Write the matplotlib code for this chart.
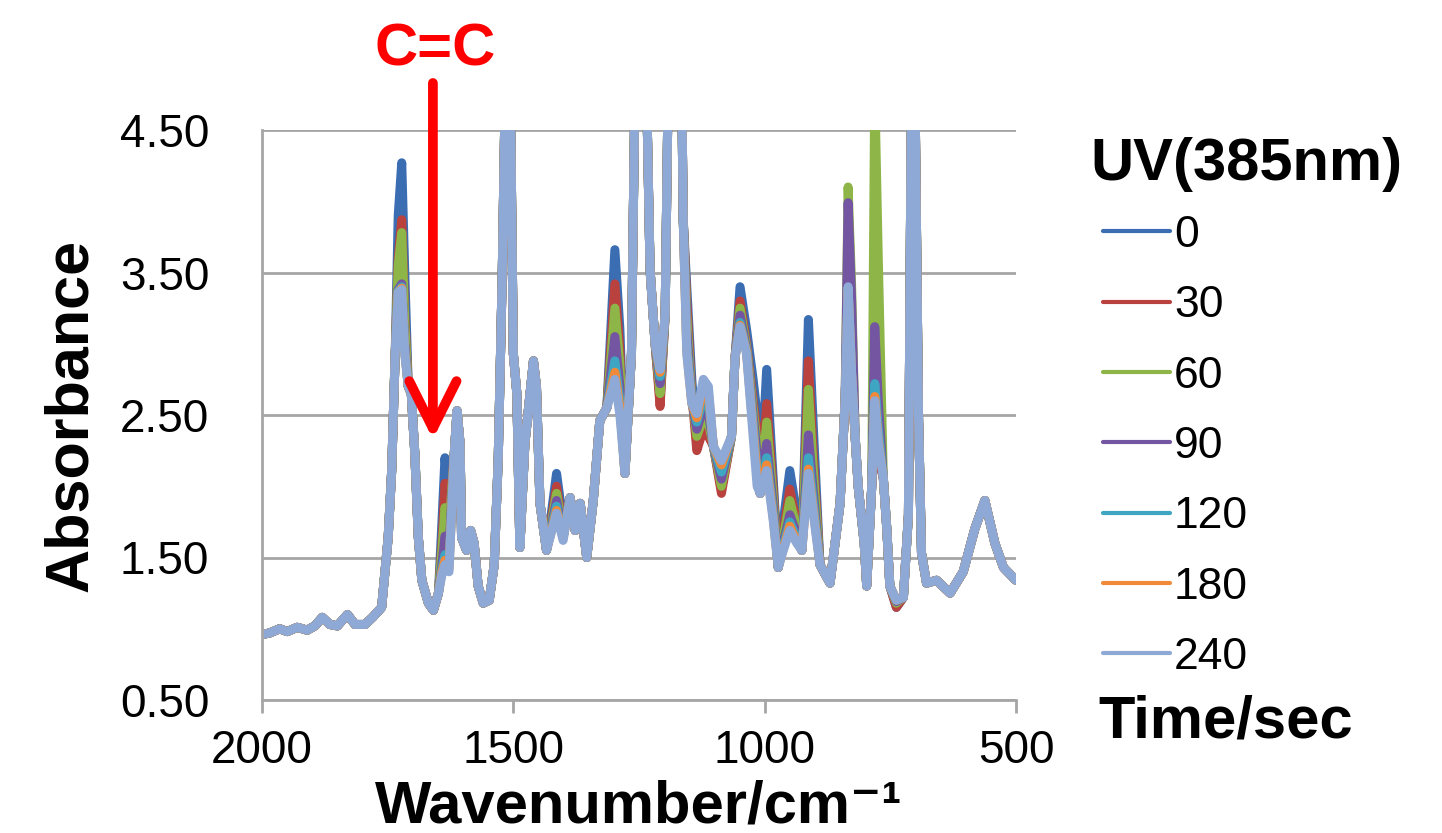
import matplotlib
matplotlib.use("Agg")
import matplotlib.pyplot as plt
import numpy as np

plt.rcParams['font.family'] = ['Liberation Sans', 'DejaVu Sans']

# ---------------------------------------------------------------------------
# Datos leídos del espectro (serie 240 s como base, cm-1 descendente)
# ---------------------------------------------------------------------------
wn = [2000, 1985, 1965, 1950, 1930, 1910, 1895, 1880, 1865, 1850, 1830, 1815,
      1795, 1780, 1762, 1749, 1742, 1735, 1729, 1722, 1716, 1709, 1703, 1696,
      1689, 1682, 1669, 1659, 1649, 1642, 1636, 1628, 1618, 1612, 1606, 1603,
      1593, 1585, 1578, 1570, 1560, 1548, 1538, 1530, 1522, 1516, 1506, 1500,
      1493, 1487, 1477, 1460, 1454, 1447, 1434, 1414, 1401, 1387, 1377, 1367,
      1354, 1341, 1328, 1314, 1298, 1288, 1278, 1265, 1258, 1235, 1228, 1218,
      1208, 1198, 1192, 1165, 1162, 1155, 1145, 1135, 1122, 1112, 1102, 1086,
      1066, 1059, 1049, 1036, 1023, 1015, 1009, 996, 983, 973, 963, 950, 936,
      926, 913, 903, 890, 870, 850, 840, 834, 827, 820, 814, 802, 797, 787,
      781, 774, 764, 757, 751, 738, 724, 714, 708, 701, 694, 688, 678, 658,
      631, 605, 582, 562, 542, 525, 500]

a240 = [0.96, 0.97, 1.00, 0.98, 1.01, 0.99, 1.02, 1.08, 1.03, 1.02, 1.10, 1.03,
        1.03, 1.08, 1.15, 1.64, 2.11, 2.93, 3.36, 3.38, 2.93, 2.70, 2.65, 2.23,
        1.64, 1.34, 1.18, 1.13, 1.25, 1.38, 1.45, 1.40, 2.20, 2.53, 2.30, 1.64,
        1.55, 1.69, 1.60, 1.30, 1.18, 1.20, 1.45, 2.20, 3.50, 4.80, 4.80, 2.93,
        2.65, 1.57, 2.30, 2.88, 2.70, 1.88, 1.55, 1.81, 1.62, 1.92, 1.69, 1.88,
        1.50, 1.90, 2.46, 2.55, 2.75, 2.50, 2.09, 2.93, 4.80, 4.80, 3.52, 3.00,
        2.82, 3.20, 4.80, 4.80, 3.87, 2.93, 2.58, 2.51, 2.75, 2.70, 2.28, 2.18,
        2.35, 2.90, 3.12, 2.93, 2.35, 2.00, 1.95, 2.11, 1.76, 1.43, 1.55, 1.69, 1.60,
        1.55, 2.09, 1.80, 1.45, 1.32, 1.88, 2.60, 3.40, 2.80, 2.35, 2.00, 1.60, 1.30, 2.00,
        2.60, 2.30, 2.06, 1.70, 1.30, 1.20, 1.22, 1.80, 4.80, 4.80, 2.50, 1.53, 1.32, 1.34,
        1.25, 1.40, 1.70, 1.90, 1.60, 1.43, 1.34]

# Puntos donde las series difieren (picos que cambian con la irradiación UV)
peak_wn = [1729, 1722, 1716, 1642, 1636, 1628, 1414, 1401, 1298, 1288, 1208,
           1155, 1145, 1135, 1122, 1112, 1086, 1049, 1036, 1023, 1015, 996, 983,
           963, 950, 936, 913, 903, 834, 827, 781, 774, 738]
peak_0 = [3.90, 4.27, 3.50, 1.75, 2.20, 1.90, 2.09, 1.75, 3.66, 3.10, 2.60,
          3.40, 2.75, 2.30, 2.45, 2.40, 1.98, 3.40, 3.10, 2.75, 2.50, 2.82, 2.05,
          1.75, 2.11, 1.80, 3.17, 2.40, 3.35, 2.75, 2.55, 2.20, 1.15]
peak_30 = [3.60, 3.87, 3.20, 1.60, 2.02, 1.80, 2.00, 1.70, 3.42, 2.95, 2.56,
           3.30, 2.65, 2.25, 2.40, 2.35, 1.95, 3.30, 3.00, 2.60, 2.38, 2.58, 1.98,
           1.68, 1.98, 1.73, 2.88, 2.20, 3.35, 2.75, 2.55, 2.20, 1.15]
peak_60 = [3.55, 3.78, 3.15, 1.55, 1.85, 1.70, 1.95, 1.68, 3.25, 2.85, 2.65,
           3.20, 2.62, 2.35, 2.48, 2.45, 2.00, 3.25, 2.98, 2.55, 2.30, 2.45, 1.92,
           1.64, 1.90, 1.70, 2.68, 2.10, 4.10, 3.40, 4.80, 3.60, 1.18]
peak_90 = [3.38, 3.42, 3.00, 1.45, 1.65, 1.55, 1.90, 1.66, 3.05, 2.70, 2.72,
           3.10, 2.60, 2.40, 2.55, 2.52, 2.05, 3.20, 2.96, 2.50, 2.22, 2.30, 1.86,
           1.60, 1.80, 1.66, 2.36, 1.95, 3.99, 3.30, 3.12, 2.60, 1.19]
peak_120 = [3.37, 3.40, 2.95, 1.42, 1.52, 1.45, 1.86, 1.64, 2.88, 2.60, 2.77,
            3.00, 2.60, 2.45, 2.62, 2.60, 2.10, 3.15, 2.95, 2.45, 2.12, 2.20, 1.81,
            1.58, 1.75, 1.63, 2.20, 1.88, 3.38, 2.78, 2.72, 2.40, 1.20]
peak_180 = [3.36, 3.39, 2.94, 1.40, 1.48, 1.42, 1.83, 1.63, 2.80, 2.55, 2.80,
            2.95, 2.58, 2.48, 2.70, 2.66, 2.15, 3.13, 2.94, 2.40, 2.08, 2.15, 1.78,
            1.56, 1.72, 1.61, 2.12, 1.83, 3.38, 2.78, 2.63, 2.32, 1.20]
peak_240 = [3.36, 3.38, 2.93, 1.38, 1.45, 1.40, 1.81, 1.62, 2.75, 2.50, 2.82,
            2.93, 2.58, 2.51, 2.75, 2.70, 2.18, 3.12, 2.93, 2.35, 2.00, 2.11, 1.76,
            1.55, 1.69, 1.60, 2.09, 1.80, 3.40, 2.80, 2.60, 2.30, 1.20]

tiempos = ['0', '30', '60', '90', '120', '180', '240']
picos = [peak_0, peak_30, peak_60, peak_90, peak_120, peak_180, peak_240]
colores = ['#3B6DB3', '#B9423F', '#8DB548', '#7355A1', '#3EA6C2', '#F08A3A', '#8EA9D5']


def serie(valores_pico):
    """Espectro base con los valores propios de cada serie en los picos."""
    y = np.array(a240, dtype=float)
    idx = {w: i for i, w in enumerate(wn)}
    for w, v in zip(peak_wn, valores_pico):
        y[idx[w]] = v
    return y


# ---------------------------------------------------------------------------
# Gráfica
# ---------------------------------------------------------------------------
W, H = 1442, 833
fig = plt.figure(figsize=(W / 100, H / 100), dpi=100)
ax = fig.add_axes([262 / W, 1 - 700 / H, (1016 - 262) / W, (700 - 130) / H])

for t, vals, c in zip(tiempos, picos, colores):
    ax.plot(wn, serie(vals), color=c, lw=6.5, label=t,
            solid_joinstyle='round', solid_capstyle='round')

ax.set_xlim(2000, 500)
ax.set_ylim(0.5, 4.5)
ax.set_xticks([2000, 1500, 1000, 500])
ax.set_yticks([0.5, 1.5, 2.5, 3.5, 4.5])
ax.set_yticklabels([f"{v:.2f}" for v in [0.5, 1.5, 2.5, 3.5, 4.5]])
ax.grid(axis='y', color='#A6A6A6', lw=2)
ax.set_axisbelow(True)
for s in ['top', 'right']:
    ax.spines[s].set_visible(False)
for s in ['left', 'bottom']:
    ax.spines[s].set_color('#A6A6A6')
    ax.spines[s].set_linewidth(2)
ax.tick_params(axis='x', length=9, width=2, color='#A6A6A6', labelsize=33, pad=12)
ax.tick_params(axis='y', length=0, labelsize=33, pad=38)

ax.set_ylabel("Absorbance", fontsize=44, fontweight='bold')
ax.yaxis.set_label_coords(-0.215, 0.5)
ax.set_xlabel("Wavenumber/cm⁻¹", fontsize=43, fontweight='bold')
ax.xaxis.set_label_coords(0.5, -0.14)

# Flecha C=C
ax.annotate('', xy=(1660, 2.33), xytext=(1660, 4.83), annotation_clip=False,
            arrowprops=dict(arrowstyle='->,head_length=1.7,head_width=0.85',
                            color='red', lw=7, mutation_scale=20,
                            shrinkA=0, shrinkB=0))
fig.text(435 / W, 1 - 50 / H, "C=C", color='red', fontsize=43, fontweight='bold',
         ha='center', va='center')

# Leyenda: título y pie como textos aparte
fig.text(1090 / W, 1 - 165 / H, "UV(385nm)", fontsize=43, fontweight='bold',
         ha='left', va='center')
leg = ax.legend(loc='upper left', bbox_to_anchor=(1103 / W, 1 - 215 / H),
                bbox_transform=fig.transFigure, frameon=False, fontsize=32,
                handlelength=1.5, handletextpad=0.1, labelspacing=0.66,
                borderpad=0, borderaxespad=0)
for h in leg.get_lines():
    h.set_linewidth(3)
fig.text(1098 / W, 1 - 722 / H, "Time/sec", fontsize=43, fontweight='bold',
         ha='left', va='center')

fig.savefig("out.png", dpi=100)
